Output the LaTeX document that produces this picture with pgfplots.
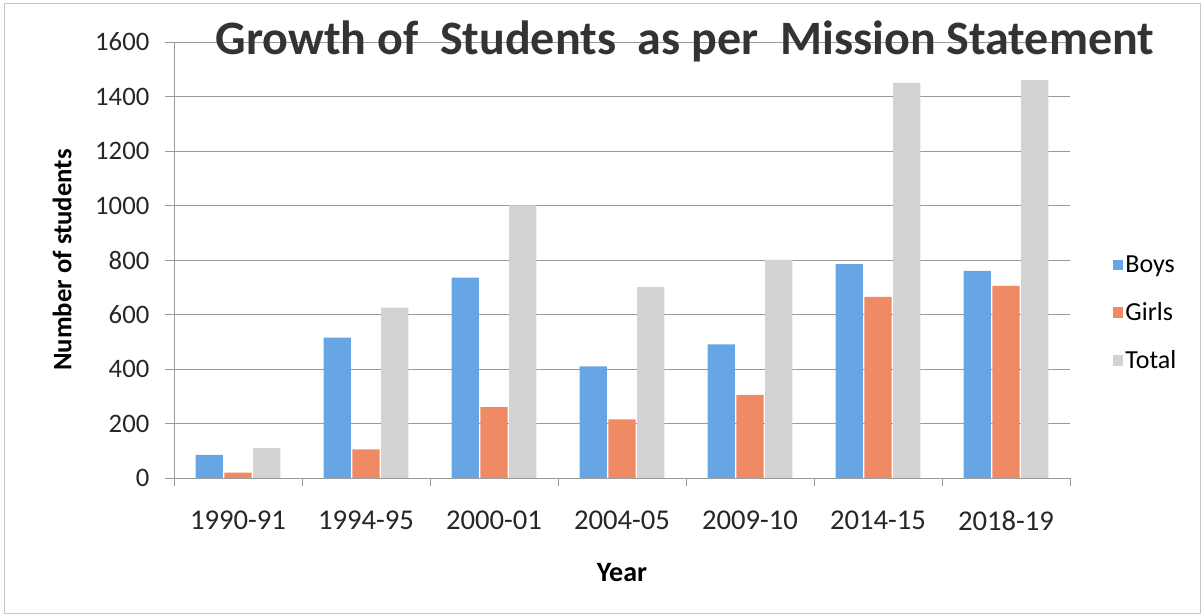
\documentclass[border=0pt]{standalone}
\usepackage{fontspec}
\setmainfont{Carlito}
\usepackage{pgfplots}
\pgfplotsset{compat=1.18}
\definecolor{boys}{HTML}{66A6E4}
\definecolor{girls}{HTML}{F08A64}
\definecolor{total}{HTML}{D3D3D3}
\definecolor{gridc}{HTML}{9A9A9A}

\pgfplotstableread{
idx boys girls total
0   85   20   110
1   515  105  625
2   735  260  1000
3   410  215  700
4   490  305  800
5   785  665  1450
6   760  705  1460
}\students

\begin{document}
\begin{tikzpicture}
% 1 px of the reference = 0.75pt
\useasboundingbox (0pt,0pt) rectangle (903pt,462pt);
\draw[gray!45,line width=0.6pt] (3pt,2.25pt) rectangle (900pt,459.75pt);
\begin{axis}[
    at={(130.5pt,103.5pt)}, anchor=south west,
    width=672pt, height=327pt,
    scale only axis,
    ybar=1pt,
    bar width=20.5pt,
    xmin=-0.5, xmax=6.5,
    ymin=0, ymax=1600,
    ytick distance=200,
    xtick={0,...,6},
    xticklabels={1990-91,1994-95,2000-01,2004-05,2009-10,2014-15,2018-19},
    minor xtick={-0.5,0.5,...,6.5},
    major x tick style={draw=none},
    minor tick length=6pt,
    major tick length=7pt,
    tick align=outside,
    tick style={gridc,line width=0.6pt},
    axis x line*=bottom,
    axis y line*=left,
    axis line style={gridc,line width=0.6pt,-},
    ymajorgrids,
    grid style={gridc,line width=0.6pt},
    /pgf/number format/assume math mode=true,
    /pgf/number format/1000 sep={},
    ticklabel style={text=black!85},
    xticklabel style={yshift=-14pt, font=\fontsize{21.5}{24}\selectfont},
    yticklabel style={xshift=-8pt, font=\fontsize{20}{24}\selectfont},
    title={\textbf{Growth of\ \ Students\ \ as per\ \ Mission Statement}},
    title style={at={(0.57,0.954)}, anchor=base, font=\fontsize{36}{40}\selectfont, text=black!80},
    xlabel={\textbf{Year}},
    xlabel style={at={(axis description cs:0.5,-0.216)}, anchor=center, font=\fontsize{21}{24}\selectfont},
    ylabel={\textbf{Number of students}},
    ylabel style={at={(axis description cs:-0.125,0.5)}, anchor=center, font=\fontsize{20}{24}\selectfont},
    legend style={at={(1.043,0.378)}, anchor=west, draw=none, fill=none,
        font=\fontsize{19.5}{22}\selectfont, row sep=17pt,
        /tikz/every even column/.append style={column sep=9pt}},
    legend image code/.code={\fill[#1] (0pt,-3.8pt) rectangle (7.5pt,3.8pt);},
    legend cell align=left,
]
\addplot[fill=boys, draw=none] table[x=idx, y=boys] {\students};
\addplot[fill=girls, draw=none] table[x=idx, y=girls] {\students};
\addplot[fill=total, draw=none] table[x=idx, y=total] {\students};
\legend{Boys,Girls,Total}
\end{axis}
\end{tikzpicture}
\end{document}
